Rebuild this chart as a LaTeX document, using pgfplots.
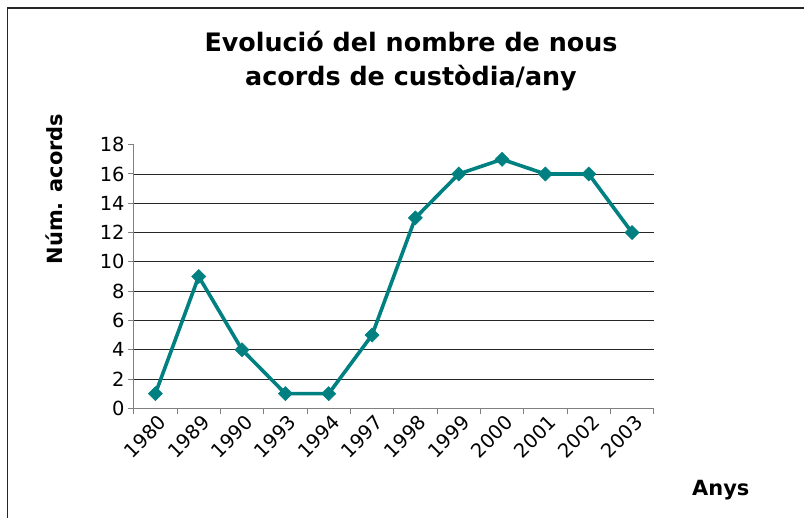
\documentclass[border=0pt]{standalone}
\usepackage{fontspec}
\setmainfont{DejaVu Sans}
\usepackage{pgfplots}
\pgfplotsset{compat=1.18}
\begin{document}
\begin{tikzpicture}
\path[use as bounding box] (0bp,0bp) rectangle (804bp,-518bp);
\draw[line width=1.6bp, black!85] (7.5bp,-530bp) -- (7.5bp,-8bp) -- (820bp,-8bp);
\node[font=\bfseries\fontsize{25.5}{34}\selectfont, align=center] at (411bp,-61bp) {Evolució del nombre de nous\\acords de custòdia/any};
\begin{axis}[
  at={(133.7bp,-408.3bp)}, anchor=south west,
  scale only axis, width=520bp, height=263.6bp,
  xmin=0, xmax=12, ymin=0, ymax=18,
  axis x line*=bottom, axis y line*=left,
  axis line style={draw=gray, line width=1.3bp},
  ytick={0,2,...,18},
  xtick={0,...,12},
  x tick label as interval,
  xticklabels={1980,1989,1990,1993,1994,1997,1998,1999,2000,2001,2002,2003},
  tick align=outside, major tick length=6bp,
  tick style={draw=gray, line width=1bp},
  extra y ticks={2,4,...,16}, extra y tick labels={},
  extra y tick style={grid=major, major tick length=0pt},
  major grid style={draw=black!85, line width=0.9bp},
  /pgf/number format/assume math mode=true,
  ticklabel style={font=\fontsize{19.5}{21}\selectfont},
  yticklabel style={inner sep=2bp, xshift=-1bp},
  xticklabel style={rotate=45, anchor=north east, inner sep=1bp, xshift=3bp},
  xlabel={Anys}, ylabel={Núm. acords},
  label style={font=\bfseries\fontsize{21}{24}\selectfont},
  xlabel style={at={(axis description cs:1.129,-0.31)}, anchor=center},
  ylabel style={at={(axis description cs:-0.152,0.832)}, anchor=center, rotate=0},
  clip=false,
]
\addplot[color=teal, line width=3.6bp, mark=square*, mark size=5bp, mark options={rotate=45, solid, line width=0.5bp}]
coordinates {(0.5,1)(1.5,9)(2.5,4)(3.5,1)(4.5,1)(5.5,5)(6.5,13)(7.5,16)(8.5,17)(9.5,16)(10.5,16)(11.5,12)};
\end{axis}
\end{tikzpicture}
\end{document}
